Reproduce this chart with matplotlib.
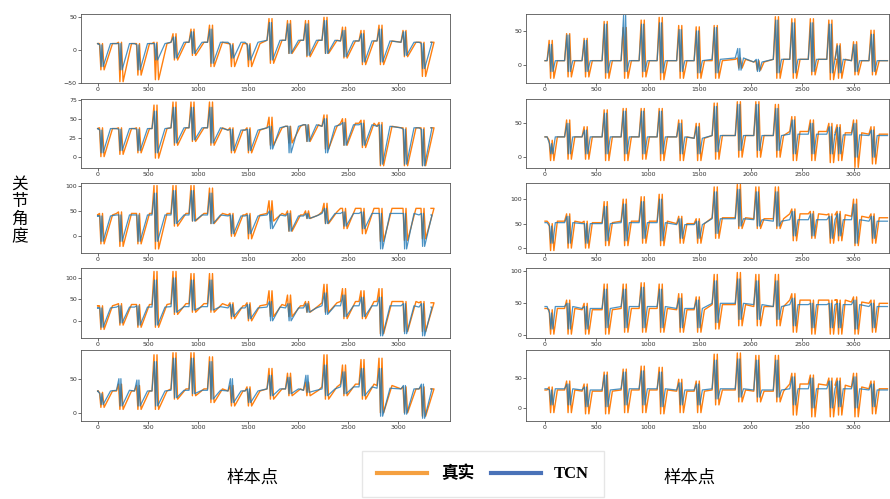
import numpy as np
import matplotlib.pyplot as plt
from matplotlib.lines import Line2D

# event positions (sample index) for the left and right column
left_events = [15, 205, 385, 560, 750, 930, 1115, 1320, 1490, 1710, 1895, 2075, 2260, 2445, 2630, 2810, 3050, 3230]
right_events = [40, 210, 380, 575, 760, 935, 1110, 1300, 1470, 1645, 1870, 2050, 2240, 2400, 2580, 2760, 2840, 3000, 3170]
n_samples = 3330

# left column, rows 1..5
L1_true_hi = [10, 12, 10, 12, 25, 32, 38, 10, 10, 48, 45, 45, 50, 35, 30, 38, 30, 12]
L1_true_lo = [-30, -48, -38, -45, -15, -8, -25, -25, -25, -20, -5, -10, -5, -12, -22, -22, -10, -40]
L1_tcn_hi = [8, 10, 8, 10, 20, 28, 32, 8, 8, 42, 40, 40, 45, 30, 25, 32, 28, 10]
L1_tcn_lo = [-25, -30, -30, -15, -12, -5, -20, -12, -15, -15, -5, -8, -5, -10, -18, -18, -8, -28]
L1_base_true = [10, 10, 10, 10, 12, 12, 12, 10, 10, 15, 15, 15, 15, 14, 14, 14, 12, 12]
L1_base_tcn = [10, 10, 10, 10, 12, 12, 12, 12, 12, 15, 15, 15, 15, 14, 14, 14, 12, 12]

L2_true_hi = [38, 38, 38, 68, 72, 72, 72, 38, 38, 52, 40, 42, 55, 50, 48, 45, 38, 38]
L2_true_lo = [0, 3, 5, -2, 15, 20, 15, 5, 5, 15, 18, 20, 10, 15, 12, -12, -12, -12]
L2_tcn_hi = [35, 36, 36, 60, 65, 65, 65, 36, 36, 40, 40, 42, 50, 45, 44, 42, 36, 36]
L2_tcn_lo = [5, 8, 8, 5, 18, 22, 18, 8, 8, 10, 5, 20, 5, 15, 15, -10, -10, -12]
L2_base_true = [37, 37, 37, 37, 38, 38, 38, 35, 35, 38, 40, 42, 40, 44, 44, 40, 38, 38]
L2_base_tcn = [37, 37, 37, 37, 38, 38, 38, 35, 35, 38, 40, 42, 40, 42, 42, 40, 38, 38]

L3_true_hi = [45, 48, 45, 100, 100, 100, 95, 45, 45, 70, 50, 50, 65, 55, 55, 55, 55, 55]
L3_true_lo = [-15, -20, -15, -25, 20, 30, 25, 0, -5, 30, 10, 35, 25, 15, 5, -10, -8, -5]
L3_tcn_hi = [40, 42, 42, 85, 90, 90, 85, 42, 42, 50, 45, 45, 55, 48, 48, 45, 45, 45]
L3_tcn_lo = [-10, -10, -10, -10, 25, 30, 25, 5, 5, 15, 10, 35, 25, 20, 15, -25, -25, -20]
L3_base_true = [42, 45, 45, 45, 45, 45, 45, 42, 42, 45, 42, 42, 48, 55, 55, 55, 55, 55]
L3_base_tcn = [40, 42, 42, 42, 42, 42, 42, 40, 40, 42, 40, 40, 45, 45, 45, 45, 45, 42]

L4_true_hi = [35, 40, 38, 115, 115, 110, 110, 42, 42, 70, 60, 45, 85, 75, 70, 75, 45, 45]
L4_true_lo = [-20, -10, -15, -15, 15, 20, 20, 5, 0, 10, 10, 20, 20, 5, 5, -30, -25, -25]
L4_tcn_hi = [30, 35, 35, 95, 100, 95, 95, 38, 38, 45, 40, 40, 65, 60, 55, 55, 40, 40]
L4_tcn_lo = [-15, -5, -10, -10, 20, 25, 25, 10, 5, 0, 0, 20, 15, 10, 10, -35, -30, -35]
L4_base_true = [35, 38, 38, 38, 40, 40, 40, 35, 35, 38, 35, 35, 42, 45, 45, 45, 45, 42]
L4_base_tcn = [30, 32, 32, 32, 33, 33, 33, 30, 30, 32, 30, 30, 35, 35, 35, 35, 35, 32]

L5_true_hi = [30, 42, 40, 85, 88, 88, 82, 40, 38, 65, 58, 45, 85, 70, 78, 80, 38, 38]
L5_true_lo = [8, 5, 5, 5, 20, 25, 15, 10, 10, 20, 25, 25, 20, 25, 20, 0, 0, -5]
L5_tcn_hi = [28, 50, 48, 75, 80, 80, 75, 50, 35, 55, 52, 55, 70, 60, 65, 65, 40, 42]
L5_tcn_lo = [12, 10, 10, 10, 22, 28, 20, 15, 15, 25, 28, 30, 25, 28, 25, -5, -2, -8]
L5_base_true = [32, 32, 32, 32, 35, 35, 35, 32, 32, 35, 35, 33, 38, 42, 42, 40, 35, 35]
L5_base_tcn = [32, 33, 32, 32, 33, 33, 33, 32, 32, 35, 35, 33, 35, 38, 38, 36, 35, 35]

# right column, rows 1..5
R1_true_hi = [36, 46, 39, 64, 55, 66, 70, 58, 56, 58, 10, 6, 71, 68, 68, 66, 31, 34, 51]
R1_true_lo = [-20, -18, -18, -20, -20, -18, -22, -20, -20, -20, -5, -8, -20, -20, -15, -22, -20, -15, -15]
R1_tcn_hi = [30, 44, 36, 60, 73, 60, 62, 52, 50, 55, 24, 8, 66, 62, 62, 60, 28, 30, 45]
R1_tcn_lo = [-10, -10, -10, -12, -10, -10, -12, -10, -12, -12, -8, -10, -12, -12, -10, -12, -12, -10, -10]
R1_base_true = [6, 6, 6, 6, 6, 6, 6, 6, 6, 6, 8, 4, 8, 8, 8, 8, 8, 6, 6]
R1_base_tcn = [6, 6, 6, 6, 6, 6, 6, 6, 6, 8, 10, 4, 8, 8, 8, 8, 8, 6, 6]

R2_true_hi = [25, 55, 45, 70, 72, 72, 72, 55, 50, 80, 82, 82, 78, 60, 55, 50, 48, 55, 45]
R2_true_lo = [-5, -3, -3, -5, -5, -3, -5, -5, -5, -3, 0, 0, 0, -5, -5, -8, -5, -15, -10]
R2_tcn_hi = [20, 50, 40, 65, 68, 68, 68, 50, 45, 75, 78, 78, 72, 55, 50, 45, 44, 50, 40]
R2_tcn_lo = [5, 5, 5, 5, 5, 5, 5, 5, 5, 8, 10, 10, 10, 5, 5, 5, 5, 0, 0]
R2_base_true = [30, 30, 30, 30, 30, 30, 30, 30, 28, 32, 32, 32, 32, 38, 38, 38, 36, 36, 34]
R2_base_tcn = [30, 30, 30, 30, 30, 30, 30, 30, 28, 32, 32, 32, 32, 34, 34, 34, 33, 33, 32]

R3_true_hi = [50, 70, 55, 95, 100, 105, 110, 65, 60, 125, 130, 125, 125, 80, 75, 70, 75, 100, 70]
R3_true_lo = [-5, 0, 0, 5, 5, 10, 5, 10, 10, 20, 40, 40, 40, 15, 20, 10, 15, 5, 10]
R3_tcn_hi = [45, 65, 50, 85, 90, 95, 100, 60, 55, 115, 120, 115, 115, 75, 70, 65, 70, 90, 65]
R3_tcn_lo = [10, 10, 10, 15, 15, 20, 15, 20, 20, 30, 45, 45, 45, 25, 25, 20, 25, 10, 20]
R3_base_true = [55, 55, 52, 52, 55, 55, 55, 50, 50, 62, 62, 60, 60, 70, 70, 68, 68, 65, 62]
R3_base_tcn = [52, 52, 50, 50, 52, 52, 52, 48, 48, 60, 60, 58, 55, 58, 58, 58, 58, 58, 55]

R4_true_hi = [40, 55, 50, 80, 80, 82, 80, 65, 60, 95, 98, 95, 95, 65, 55, 55, 55, 60, 55]
R4_true_lo = [2, 2, 2, 2, 5, 5, 5, 5, 5, 10, 15, 15, 15, 5, 2, 2, 2, 2, 5]
R4_tcn_hi = [35, 50, 45, 72, 72, 75, 72, 58, 55, 85, 88, 85, 85, 58, 50, 50, 50, 55, 50]
R4_tcn_lo = [10, 10, 10, 12, 12, 12, 12, 12, 12, 20, 25, 25, 25, 15, 12, 12, 12, 10, 12]
R4_base_true = [42, 42, 40, 40, 42, 42, 42, 40, 40, 48, 48, 45, 45, 55, 55, 55, 55, 52, 50]
R4_base_tcn = [45, 45, 42, 42, 45, 45, 45, 42, 42, 50, 50, 48, 45, 48, 48, 48, 48, 48, 45]

R5_true_hi = [35, 45, 40, 60, 65, 70, 68, 48, 45, 90, 92, 88, 88, 58, 55, 50, 50, 58, 45]
R5_true_lo = [-8, -8, -10, -10, -8, -8, -10, -8, -8, 5, 10, 10, 10, -12, -15, -15, -12, -15, -10]
R5_tcn_hi = [30, 40, 35, 55, 60, 62, 60, 42, 40, 80, 82, 80, 80, 52, 50, 45, 45, 52, 40]
R5_tcn_lo = [5, 5, 2, 2, 5, 5, 2, 5, 5, 15, 18, 18, 18, 5, 0, 0, 2, 0, 2]
R5_base_true = [30, 30, 28, 28, 30, 30, 30, 28, 28, 30, 30, 28, 28, 40, 40, 38, 38, 35, 32]
R5_base_tcn = [32, 32, 30, 30, 32, 32, 32, 30, 30, 32, 32, 30, 30, 32, 32, 32, 32, 32, 30]

left_ylims = [(-50, 55), (-15, 76), (-33, 105), (-40, 123), (-12, 92)]
left_yticks = [[-50, 0, 50], [0, 25, 50, 75], [0, 50, 100], [0, 50, 100], [0, 50]]
right_ylims = [(-27, 75), (-16, 86), (-10, 133), (-4, 105), (-22, 97)]
right_yticks = [[0, 50], [0, 50], [0, 50, 100], [0, 50, 100], [0, 50]]

left_panels = [
    (L1_true_hi, L1_true_lo, L1_base_true, L1_tcn_hi, L1_tcn_lo, L1_base_tcn),
    (L2_true_hi, L2_true_lo, L2_base_true, L2_tcn_hi, L2_tcn_lo, L2_base_tcn),
    (L3_true_hi, L3_true_lo, L3_base_true, L3_tcn_hi, L3_tcn_lo, L3_base_tcn),
    (L4_true_hi, L4_true_lo, L4_base_true, L4_tcn_hi, L4_tcn_lo, L4_base_tcn),
    (L5_true_hi, L5_true_lo, L5_base_true, L5_tcn_hi, L5_tcn_lo, L5_base_tcn),
]
right_panels = [
    (R1_true_hi, R1_true_lo, R1_base_true, R1_tcn_hi, R1_tcn_lo, R1_base_tcn),
    (R2_true_hi, R2_true_lo, R2_base_true, R2_tcn_hi, R2_tcn_lo, R2_base_tcn),
    (R3_true_hi, R3_true_lo, R3_base_true, R3_tcn_hi, R3_tcn_lo, R3_base_tcn),
    (R4_true_hi, R4_true_lo, R4_base_true, R4_tcn_hi, R4_tcn_lo, R4_base_tcn),
    (R5_true_hi, R5_true_lo, R5_base_true, R5_tcn_hi, R5_tcn_lo, R5_base_tcn),
]


def trace(events, hi, lo, base, offs):
    # keypoints: plateau -> spike/dip swings -> back to plateau
    xs, ys = [0], [base[0]]
    for e, h, l, b in zip(events, hi, lo, base):
        xs += [e - 20, e + offs[0], e + offs[1], e + offs[2], e + offs[3], e + offs[4]]
        ys += [b, h, l, h, l, b]
    xs.append(n_samples)
    ys.append(base[-1])
    return np.array(xs), np.array(ys)


plt.rcParams['font.family'] = ['DejaVu Sans']
fig = plt.figure(figsize=(8.9, 4.99), dpi=100)

rows_px = [(14, 83), (99, 168), (183, 253), (268, 338), (350, 421)]
H = 499.0
for col, (events, panels, ylims, yticks, x0, w, xlim, ramp) in enumerate([
        (left_events, left_panels, left_ylims, left_yticks, 81 / 890, 369 / 890, (-170, 3520), 130),
        (right_events, right_panels, right_ylims, right_yticks, 526 / 890, 363 / 890, (-185, 3345), 80)]):
    for r, (top, bot) in enumerate(rows_px):
        ax = fig.add_axes([x0, 1 - bot / H, w, (bot - top) / H])
        th, tl, tb, ph, pl, pb = panels[r]
        xt, yt = trace(events, th, tl, tb, (0, 14, 30, 46, ramp))
        xp, yp = trace(events, ph, pl, pb, (4, 16, 24, 36, ramp - 20))
        ax.plot(xt, yt, color='#ff7f0e', lw=1.0)
        ax.plot(xp, yp, color='#1f77b4', lw=0.9, alpha=0.8)
        ax.set_xlim(*xlim)
        ax.set_ylim(*ylims[r])
        ax.set_xticks([0, 500, 1000, 1500, 2000, 2500, 3000])
        ax.set_yticks(yticks[r])
        ax.tick_params(labelsize=4.5, length=2, width=0.5, pad=1, colors='#333333')
        for s in ax.spines.values():
            s.set_linewidth(0.6)
            s.set_color('#555555')

cjk = ['Noto Sans CJK SC', 'DejaVu Sans']
fig.text(0.022, 0.578, "关\n节\n角\n度", family=cjk, fontsize=12, ha='center', va='center',
         linespacing=1.05, weight='medium')
fig.text(0.284, 0.042, "样本点", family=cjk, fontsize=12.5, ha='center', va='center', weight='medium')
fig.text(0.775, 0.042, "样本点", family=cjk, fontsize=12.5, ha='center', va='center', weight='medium')

handles = [Line2D([], [], color='#f5a040', lw=3), Line2D([], [], color='#4a72b8', lw=3)]
leg = fig.legend(handles, ["真实", "TCN"], loc='center', bbox_to_anchor=(0.543, 0.05), ncol=2,
                 prop={'family': ['Liberation Serif', 'Noto Sans CJK SC'], 'weight': 'bold', 'size': 12},
                 frameon=True, fancybox=False, edgecolor='#e0e0e0', handlelength=3, columnspacing=1.0,
                 borderpad=0.9)

fig.savefig("out.png", dpi=100)
